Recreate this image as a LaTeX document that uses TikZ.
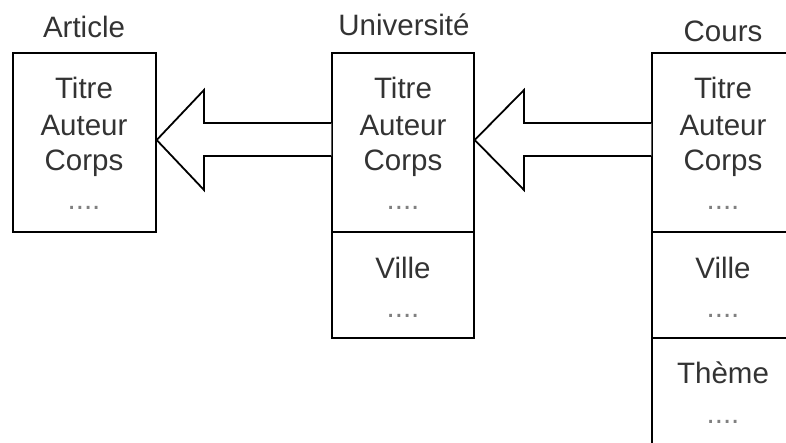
\documentclass[tikz,border=0pt]{standalone}
\usepackage{fontspec}
\setmainfont{Liberation Sans}
\begin{document}
\begin{tikzpicture}[x=1pt,y=-1pt,
  boxst/.style={draw=black,line width=1.4pt,rectangle,inner sep=0pt},
  txt/.style={anchor=base,inner sep=0pt,text=black!80,font=\fontsize{29.5}{35}\selectfont},
  dotst/.style={anchor=base,inner sep=0pt,text=black!50,font=\fontsize{29.5}{35}\selectfont},
  arrowst/.style={draw=black,line width=1.8pt,line join=miter,fill=white}]
\useasboundingbox (0,0) rectangle (786,442);
\clip (0,0) rectangle (786,442);
% boxes
\node[boxst,minimum width=143pt,minimum height=179pt] (art) at (84.5,142.5) {};
\node[boxst,minimum width=142pt,minimum height=179pt] (u1) at (403,142.5) {};
\node[boxst,minimum width=142pt,minimum height=106pt] (u2) at (403,285) {};
\node[boxst,minimum width=142pt,minimum height=179pt] (c1) at (723,142.5) {};
\node[boxst,minimum width=142pt,minimum height=106pt] (c2) at (723,285) {};
\node[boxst,minimum width=142pt,minimum height=130pt] (c3) at (723,403) {};
% titles
\node[txt] (tart) at (84,37) {Article};
\node[txt] (tuni) at (404,35) {Université};
\node[txt] (tcou) at (723,41) {Cours};
% article
\node[txt] (a1) at (84,98) {Titre};
\node[txt] (a2) at (84,135) {Auteur};
\node[txt] (a3) at (84,170) {Corps};
\node[dotst] (a4) at (84,209) {....};
% universite
\node[txt] (u1a) at (403,98) {Titre};
\node[txt] (u1b) at (403,135) {Auteur};
\node[txt] (u1c) at (403,170) {Corps};
\node[dotst] (u1d) at (403,209) {....};
\node[txt] (u2a) at (403,278) {Ville};
\node[dotst] (u2b) at (403,317) {....};
% cours
\node[txt] (c1a) at (723,98) {Titre};
\node[txt] (c1b) at (723,135) {Auteur};
\node[txt] (c1c) at (723,170) {Corps};
\node[dotst] (c1d) at (723,209) {....};
\node[txt] (c2a) at (723,278) {Ville};
\node[dotst] (c2b) at (723,317) {....};
\node[txt] (c3a) at (723,383) {Thème};
\node[dotst] (c3b) at (723,423) {....};
% arrows
\draw[arrowst] (u1.west |- 0,123) -- (204,123) -- (204,90) -- (art.east |- 0,140) -- (204,190) -- (204,156) -- (u1.west |- 0,156);
\draw[arrowst] (c1.west |- 0,123) -- (524,123) -- (524,90) -- (u1.east |- 0,140) -- (524,190) -- (524,156) -- (c1.west |- 0,156);
\end{tikzpicture}
\end{document}
